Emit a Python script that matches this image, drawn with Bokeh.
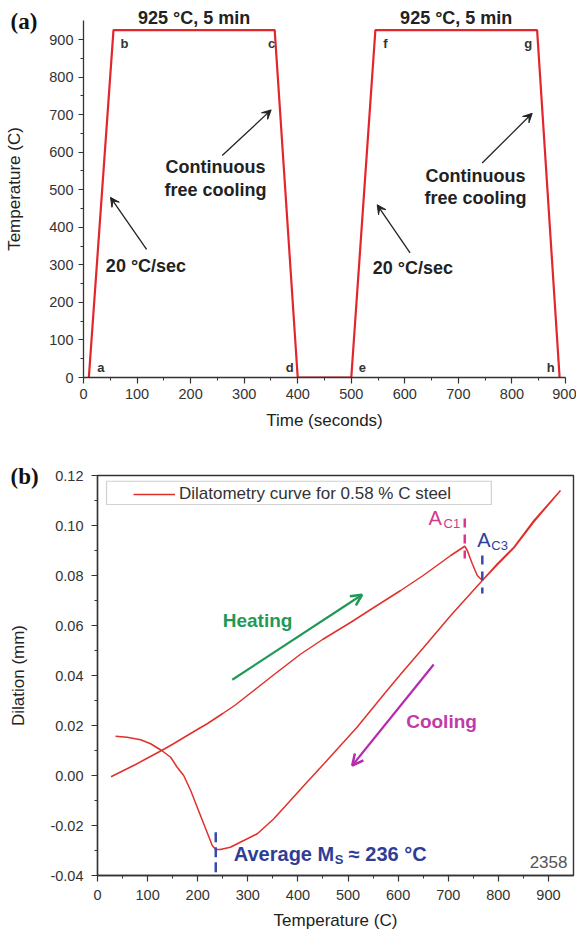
from bokeh.plotting import figure
from bokeh.models import (Range1d, FixedTicker, Arrow, VeeHead, OpenHead, Title,
                          BoxAnnotation, NumeralTickFormatter)
from bokeh.layouts import column
from bokeh.core.properties import value
from bokeh.embed import file_html
from bokeh.resources import INLINE

# ---------------- data: panel (a) heat-treatment cycle ----------------
time_s = [10, 56, 357, 400, 500, 545, 847, 889]
temp_c = [0, 925, 925, 0, 0, 925, 925, 0]
point_names = ["a", "b", "c", "d", "e", "f", "g", "h"]
hold_temp = 925
hold_min = 5
heat_rate = 20
xa_ticks = [0, 100, 200, 300, 400, 500, 600, 700, 800, 900]
xa_minor = [50, 150, 250, 350, 450, 550, 650, 750, 850]
ya_ticks = [0, 100, 200, 300, 400, 500, 600, 700, 800, 900]
ya_minor = [50, 150, 250, 350, 450, 550, 650, 750, 850]

# ---------------- data: panel (b) dilatometry curve ----------------
heat_T = [27, 50, 75, 100, 128, 150, 175, 200, 219, 250, 275, 312, 350, 405, 450,
          505, 550, 605, 650, 705, 733, 738, 748, 758, 768, 798, 831, 871, 924]
heat_D = [-0.0005, 0.0018, 0.0043, 0.007, 0.010, 0.0125, 0.0155, 0.0185, 0.0207,
          0.0248, 0.0282, 0.034, 0.040, 0.0485, 0.0545, 0.0612, 0.067, 0.074, 0.080,
          0.088, 0.0917, 0.090, 0.0847, 0.080, 0.078, 0.0847, 0.0913, 0.102, 0.114]
cool_T = [924, 871, 831, 798, 768, 705, 650, 605, 575, 518, 485, 452, 418, 385, 352,
          319, 292, 265, 245, 236, 229, 212, 199, 186, 172, 159, 146, 128, 106, 86, 59, 36]
cool_D = [0.114, 0.1015, 0.091, 0.0843, 0.078, 0.064, 0.051, 0.0405, 0.0333, 0.0193,
          0.012, 0.0047, -0.0027, -0.010, -0.0173, -0.0233, -0.026, -0.0287, -0.0296,
          -0.0296, -0.028, -0.0193, -0.0127, -0.006, 0.0, 0.0033, 0.0073, 0.010,
          0.0127, 0.0143, 0.0153, 0.0157]
ac1_T = 733
ac3_T = 768
ms_T = 236
series_label = "Dilatometry curve for 0.58 % C steel"
xb_ticks = [0, 100, 200, 300, 400, 500, 600, 700, 800, 900]
xb_minor = [50, 150, 250, 350, 450, 550, 650, 750, 850]
yb_ticks = [-0.04, -0.02, 0.0, 0.02, 0.04, 0.06, 0.08, 0.10, 0.12]
yb_minor = [-0.03, -0.01, 0.01, 0.03, 0.05, 0.07, 0.09, 0.11]

FONT = "Liberation Sans"
AX = "#333333"


def style_axis(ax, tick_out, label_standoff, axis_standoff):
    ax.axis_label_text_font = FONT
    ax.axis_label_text_font_size = "17px"
    ax.axis_label_text_font_style = "normal"
    ax.axis_label_text_color = "#222222"
    ax.axis_label_standoff = axis_standoff
    ax.major_label_text_font = FONT
    ax.major_label_text_font_size = "14.5px"
    ax.major_label_text_color = "#333333"
    ax.major_label_standoff = label_standoff
    ax.axis_line_color = AX
    ax.axis_line_width = 1.3
    ax.major_tick_line_color = AX
    ax.minor_tick_line_color = AX
    ax.major_tick_line_width = 1.2
    ax.minor_tick_line_width = 1.0
    ax.major_tick_in = 0
    ax.major_tick_out = tick_out
    ax.minor_tick_in = 0
    ax.minor_tick_out = 3


def txt(p, x, y, s, size, color, bold=False, align="center", xo=0, yo=0, font=FONT):
    p.text(x=[x], y=[y], text=[s], x_offset=[xo], y_offset=[yo],
           text_font=value(font), text_font_size=size,
           text_font_style="bold" if bold else "normal",
           text_color=color, text_align=align, text_baseline="middle")


def panel_tag(p, s, offset, standoff):
    p.add_layout(Title(text=s, align="left", vertical_align="bottom",
                       offset=offset, standoff=standoff,
                       text_font="Liberation Serif", text_font_style="bold",
                       text_font_size="23px", text_color="#111111"), "above")


# ====================== panel (a) ======================
pa = figure(width=576, height=437, output_backend="svg", toolbar_location=None,
            x_range=Range1d(0, 900), y_range=Range1d(0, 1004),
            min_border_left=83, min_border_right=11, min_border_top=0,
            min_border_bottom=60, frame_align=False,
            x_axis_label="Time (seconds)", y_axis_label="Temperature (C)")
pa.outline_line_color = None
pa.grid.visible = False
pa.background_fill_color = "white"
pa.border_fill_color = "white"

pa.xaxis.ticker = FixedTicker(ticks=xa_ticks, minor_ticks=xa_minor)
pa.yaxis.ticker = FixedTicker(ticks=ya_ticks, minor_ticks=ya_minor)
pa.xaxis.bounds = (0, 900)
pa.yaxis.bounds = (0, 950)
style_axis(pa.xaxis[0], 6, 5, 9)
style_axis(pa.yaxis[0], 5, 5, 22)

pa.line(time_s, temp_c, line_color="#e3262b", line_width=2.2)

# point letters
offs_x = [12, 11, -3, -8, 11, 10, -9, -9]
offs_y = [-10, 13, 13, -10, -10, 13, 13, -10]
pa.text(x=time_s, y=temp_c, text=point_names, x_offset=offs_x, y_offset=offs_y,
        text_font=value(FONT), text_font_size="13px", text_font_style="bold",
        text_color="#333333", text_align="center", text_baseline="middle")

# hold labels above the plateaus
for i in (1, 5):
    txt(pa, (time_s[i] + time_s[i + 1]) / 2, temp_c[i],
        f"{hold_temp} \u00b0C, {hold_min} min", "18px", "#222222", bold=True, yo=-12)

# continuous free cooling notes
for (cx, cy1, cy2) in ((246.5, 559.6, 500.0), (732.0, 536.0, 479.0)):
    txt(pa, cx, cy1, "Continuous", "18px", "#222222", bold=True)
    txt(pa, cx, cy2, "free cooling", "18px", "#222222", bold=True)

# heating rate notes
for (cx, cy) in ((116.7, 297.7), (615.0, 292.0)):
    txt(pa, cx, cy, f"{heat_rate} \u00b0C/sec", "18px", "#222222", bold=True)

for (x0, y0, x1, y1) in ((259, 591, 350.4, 712.7), (744.4, 571.4, 837.8, 703.6),
                         (117.8, 341.4, 50.4, 479.7), (609.8, 332, 548.4, 460)):
    pa.add_layout(Arrow(x_start=x0, y_start=y0, x_end=x1, y_end=y1,
                        line_color="#222222", line_width=1.3,
                        end=VeeHead(size=9, fill_color="#222222",
                                    line_color="#222222")))

panel_tag(pa, "(a)", -73, -67)

# ====================== panel (b) ======================
pb = figure(width=576, height=495, output_backend="svg", toolbar_location=None,
            x_range=Range1d(0, 950), y_range=Range1d(-0.04, 0.12),
            min_border_left=97, min_border_right=3, min_border_top=38,
            min_border_bottom=57, frame_align=False,
            x_axis_label="Temperature (C)", y_axis_label="Dilation (mm)")
pb.grid.visible = False
pb.outline_line_color = AX
pb.outline_line_width = 1.4
pb.background_fill_color = "white"
pb.border_fill_color = "white"

pb.xaxis.ticker = FixedTicker(ticks=xb_ticks, minor_ticks=xb_minor)
pb.yaxis.ticker = FixedTicker(ticks=yb_ticks, minor_ticks=yb_minor)
pb.yaxis.formatter = NumeralTickFormatter(format="0.00")
style_axis(pb.xaxis[0], 6, 8, 8)
style_axis(pb.yaxis[0], 6, 8, 19)

# legend frame
pb.add_layout(BoxAnnotation(left=18, right=786, top=0.1177, bottom=0.1084,
                            fill_alpha=0, line_color="#666666", line_width=1.2))

pb.line(heat_T + cool_T, heat_D + cool_D, line_color="#e0302b", line_width=1.5,
        legend_label=series_label)
lg = pb.legend[0]
lg.location = (32, 367)
lg.margin = 0
lg.padding = 4
lg.spacing = 0
lg.glyph_width = 42
lg.glyph_height = 20
lg.label_height = 20
lg.label_standoff = 4
lg.border_line_alpha = 0
lg.background_fill_alpha = 0
lg.label_text_font = FONT
lg.label_text_font_size = "17px"
lg.label_text_color = "#333333"

# transformation markers
pb.segment(x0=[ac1_T], y0=[0.1028], x1=[ac1_T], y1=[0.0868], line_color="#e0338f",
           line_width=2.5, line_dash="9 7")
pb.segment(x0=[ac3_T], y0=[0.088], x1=[ac3_T], y1=[0.0728], line_color="#3a4aa8",
           line_width=2.5, line_dash="9 7")
pb.segment(x0=[ms_T], y0=[-0.0227], x1=[ms_T], y1=[-0.040], line_color="#3a4aa8",
           line_width=2.5, line_dash="10 5")

txt(pb, 660.7, 0.103, "A", "20px", "#d33a8d", align="left")
txt(pb, 660.7, 0.103, "C1", "13px", "#d33a8d", align="left", xo=15, yo=5.5)
txt(pb, 757.9, 0.0944, "A", "20px", "#2f3f9a", align="left")
txt(pb, 757.9, 0.0944, "C3", "13px", "#2f3f9a", align="left", xo=14, yo=6)

txt(pb, 272, -0.0313, "Average M", "20px", "#2e3e96", bold=True, align="left")
txt(pb, 272, -0.0313, "S", "13px", "#2e3e96", bold=True, align="left", xo=101, yo=6)
txt(pb, 272, -0.0313, f"\u2248 {ms_T} \u00b0C", "20px", "#2e3e96", bold=True,
    align="left", xo=115)

txt(pb, 319.4, 0.062, "Heating", "19px", "#1f9a55", bold=True)
pb.add_layout(Arrow(x_start=269, y_start=0.0383, x_end=528, y_end=0.0723,
                    line_color="#1f9a55", line_width=2.2,
                    end=OpenHead(size=11, line_color="#1f9a55", line_width=2.5)))
txt(pb, 686.6, 0.0216, "Cooling", "19px", "#c23aa9", bold=True)
pb.add_layout(Arrow(x_start=671, y_start=0.0444, x_end=508.4, y_end=0.004,
                    line_color="#b52bb0", line_width=2.2,
                    end=OpenHead(size=11, line_color="#b52bb0", line_width=2.5)))

txt(pb, 938, -0.0344, "2358", "17px", "#555555", align="right")

panel_tag(pb, "(b)", -87, -27)

layout = column(pa, pb, spacing=0)
open("out.html", "w").write(file_html(layout, INLINE))
